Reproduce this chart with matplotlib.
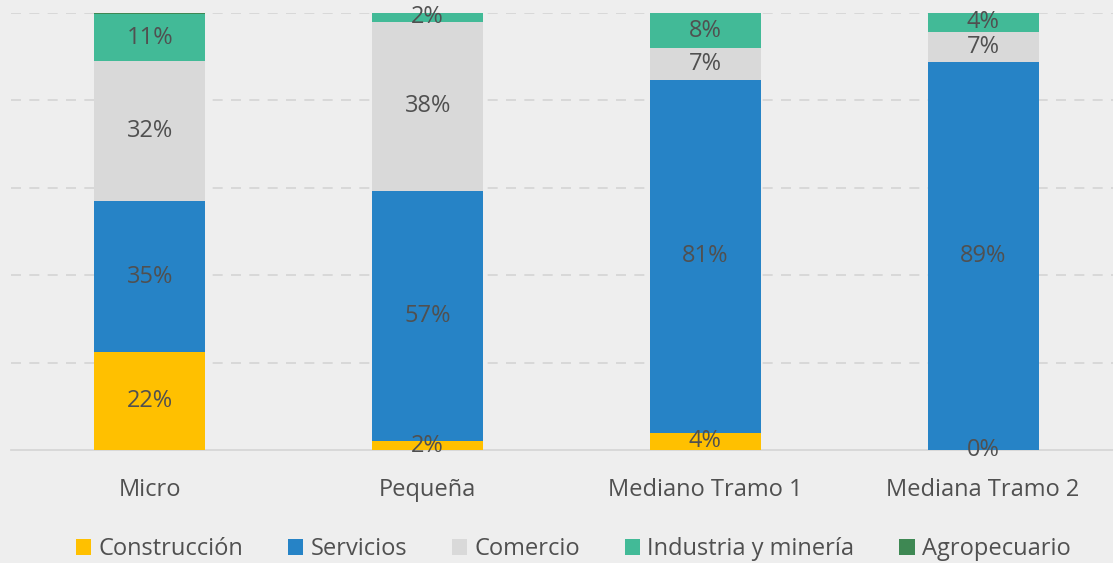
import numpy as np
import matplotlib.pyplot as plt

plt.rcParams['font.family'] = ['Open Sans', 'DejaVu Sans']

categorias = ['Micro', 'Pequeña', 'Mediano Tramo 1', 'Mediana Tramo 2']
series = ['Construcción', 'Servicios', 'Comercio', 'Industria y minería', 'Agropecuario']
construccion = [22.4, 2.0, 4.0, 0.0]
servicios = [34.6, 57.3, 80.6, 88.9]
comercio = [32.0, 38.7, 7.3, 6.8]
industria = [10.7, 2.0, 8.1, 4.3]
agropecuario = [0.3, 0.0, 0.0, 0.0]
etiquetas = [['22%', '2%', '4%', '0%'],
             ['35%', '57%', '81%', '89%'],
             ['32%', '38%', '7%', '7%'],
             ['11%', '2%', '8%', '4%']]

colores = ['#FFC000', '#2683C6', '#D9D9D9', '#42BA97', '#3E8853']
bg = '#EEEEEE'
txt = '#505050'

fig = plt.figure(figsize=(11.13, 5.63), dpi=100, facecolor=bg)
ax = fig.add_axes([11 / 1113, 1 - 450 / 563, 1111 / 1113, 437 / 563])
ax.set_facecolor(bg)

x = np.arange(len(categorias))
datos = [construccion, servicios, comercio, industria, agropecuario]
base = np.zeros(len(categorias))
for i, vals in enumerate(datos):
    vals = np.array(vals)
    ax.bar(x, vals, 0.4, bottom=base, color=colores[i], label=series[i], zorder=3)
    if i < 4:
        for j in range(len(x)):
            ax.text(x[j], base[j] + vals[j] / 2, etiquetas[i][j], ha='center', va='center',
                    fontsize=17, color=txt, zorder=4)
    base = base + vals

ax.set_xlim(-0.5, 3.5)
ax.set_ylim(0, 100)
ax.set_yticks([20, 40, 60, 80, 100])
ax.yaxis.grid(True, linestyle=(0, (6, 5)), color='#D4D4D4', linewidth=1.2, zorder=0)
ax.tick_params(left=False, labelleft=False, bottom=False)
ax.set_xticks(x)
ax.set_xticklabels(categorias, fontsize=17, color=txt)
ax.tick_params(axis='x', pad=17)
for s in ['top', 'right', 'left']:
    ax.spines[s].set_visible(False)
ax.spines['bottom'].set_color('#D4D4D4')
ax.spines['bottom'].set_linewidth(1.2)

leg = fig.legend(loc='center', bbox_to_anchor=(0.515, 1 - 549 / 563), ncol=5, frameon=False,
                 fontsize=17, handlelength=0.65, handleheight=0.65, handletextpad=0.3,
                 columnspacing=1.9)
for t in leg.get_texts():
    t.set_color(txt)

fig.savefig('out.png', dpi=100, facecolor=bg)
